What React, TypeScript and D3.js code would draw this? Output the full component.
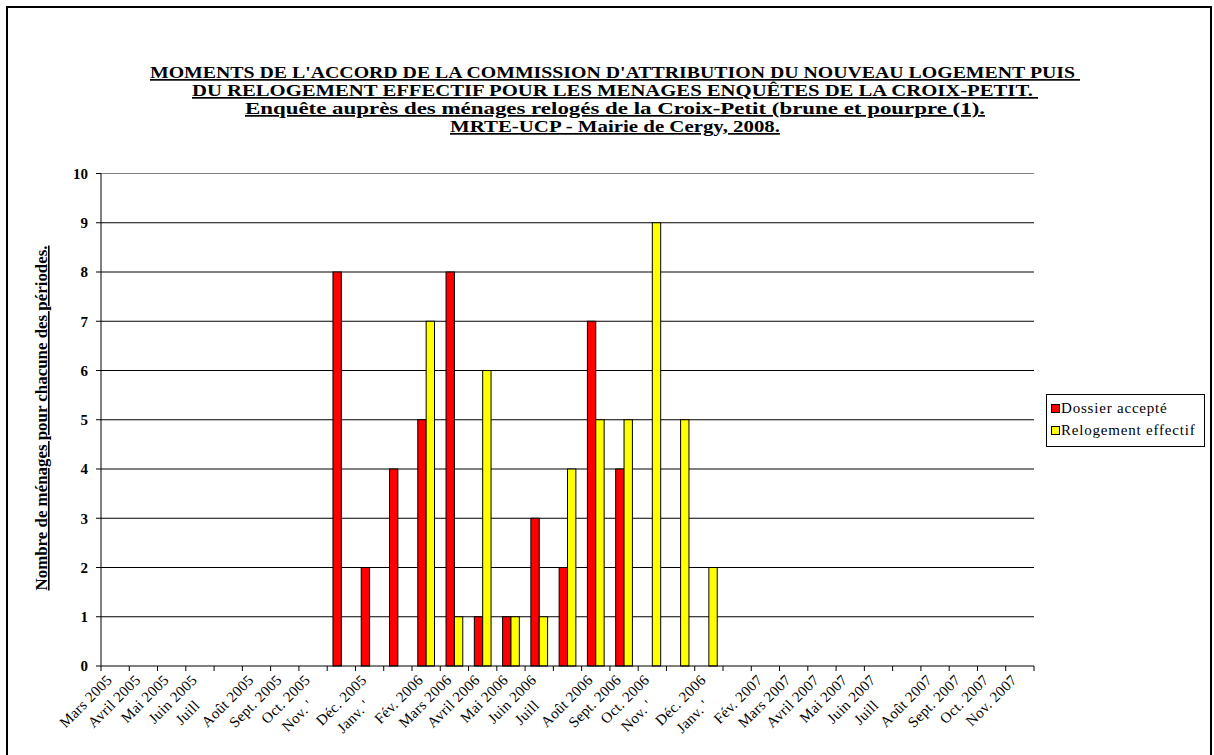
import React from "react";
import * as d3 from "d3";

const categories = ["Mars 2005","Avril 2005","Mai 2005","Juin 2005","Juill","Août 2005","Sept. 2005","Oct. 2005","Nov. '","Déc. 2005","Janv. '","Fév. 2006","Mars 2006","Avril 2006","Mai 2006","Juin 2006","Juill","Août 2006","Sept. 2006","Oct. 2006","Nov. '","Déc. 2006","Janv. '","Fév. 2007","Mars 2007","Avril 2007","Mai 2007","Juin 2007","Juill","Août 2007","Sept. 2007","Oct. 2007","Nov. 2007"];
const dossierAccepte = [0,0,0,0,0,0,0,0,8,2,4,5,8,1,1,3,2,7,4,0,0,0,0,0,0,0,0,0,0,0,0,0,0];
const relogementEffectif = [0,0,0,0,0,0,0,0,0,0,0,7,1,6,1,1,4,5,5,9,5,2,0,0,0,0,0,0,0,0,0,0,0];
const seriesNames = ["Dossier accepté","Relogement effectif"];
const seriesColors = ["#FF0000","#FFFF00"];
const yTicks = [0,1,2,3,4,5,6,7,8,9,10];
const titleLines = [
  "MOMENTS DE L'ACCORD DE LA COMMISSION D'ATTRIBUTION DU NOUVEAU LOGEMENT PUIS ",
  "DU RELOGEMENT EFFECTIF POUR LES MENAGES ENQUÊTES DE LA CROIX-PETIT. ",
  "Enquête auprès des ménages relogés de la Croix-Petit (brune et pourpre (1).",
  "MRTE-UCP - Mairie de Cergy, 2008.",
];
const titleWidths = [930, 846, 740, 330];
const yAxisTitle = "Nombre de ménages pour chacune des périodes.";

export default function App() {
  const W = 1214, H = 755;
  const left = 101, right = 1034, top = 173.5, bottom = 666;
  const font = "'Liberation Serif', 'Times New Roman', serif";

  const x = d3.scaleBand<number>().domain(d3.range(categories.length)).range([left, right]).padding(0);
  const inner = d3.scaleBand<number>().domain([0, 1]).range([0, x.step()]).paddingInner(0).paddingOuter(0.69);
  const y = d3.scaleLinear().domain([0, 10]).range([bottom, top]);
  const series = [dossierAccepte, relogementEffectif];

  return (
    <svg width={W} height={H} style={{ position: "fixed", left: 0, top: 0, background: "#fff" }} fontFamily={font}>
      <rect x={0} y={0} width={W} height={H} fill="#fff" />
      <rect x={7} y={7} width={1204} height={800} fill="none" stroke="#000" strokeWidth={2} />
      {titleLines.map((t, i) => (
        <text key={i} x={615} y={78 + i * 18} textAnchor="middle" fontSize={17} fontWeight="bold" textDecoration="underline" textLength={titleWidths[i]} lengthAdjust="spacingAndGlyphs" style={{ whiteSpace: "pre" }}>{t}</text>
      ))}
      {/* gridlines */}
      {yTicks.filter(v => v > 0).map(v => (
        <line key={v} x1={left} x2={right} y1={y(v)} y2={y(v)} stroke={v === 10 ? "#808080" : "#000"} strokeWidth={1} />
      ))}
      {/* bars */}
      {series.map((s, si) => s.map((v, i) => v > 0 ? (
        <rect key={si + "-" + i} x={(x(i) as number) + (inner(si) as number)} y={y(v)} width={inner.bandwidth()} height={y(0) - y(v)} fill={seriesColors[si]} stroke="#000" strokeWidth={1} />
      ) : null))}
      {/* y axis */}
      <line x1={left} x2={left} y1={top} y2={bottom} stroke="#000" strokeWidth={1} />
      {yTicks.map(v => (
        <g key={v}>
          <line x1={left - 5} x2={left} y1={y(v)} y2={y(v)} stroke="#000" />
          <text x={88} y={y(v)} dy="0.35em" textAnchor="end" fontSize={15} fontWeight="bold">{v}</text>
        </g>
      ))}
      {/* x axis */}
      <line x1={left} x2={right} y1={bottom} y2={bottom} stroke="#000" strokeWidth={1} />
      {d3.range(categories.length + 1).map(i => (
        <line key={i} x1={left + i * x.step()} x2={left + i * x.step()} y1={bottom} y2={bottom + 5} stroke="#000" />
      ))}
      {categories.map((c, i) => {
        const cx = (x(i) as number) + x.step() / 2;
        const short = !/\d/.test(c);
        return (
          <text key={i} transform={`translate(${cx - 2},${bottom + 15}) rotate(-45)`} dx={short ? -36 : 0} textAnchor="end" fontSize={15} letterSpacing={0.3}>{c}</text>
        );
      })}
      {/* y axis title */}
      <text transform={`translate(47,418) rotate(-90)`} textAnchor="middle" fontSize={16} fontWeight="bold" textDecoration="underline" textLength={345} lengthAdjust="spacingAndGlyphs">{yAxisTitle}</text>
      {/* legend */}
      <rect x={1046.5} y={394.5} width={158} height={52} fill="#fff" stroke="#000" strokeWidth={1} />
      {seriesNames.map((n, i) => (
        <g key={n}>
          <rect x={1051.5} y={404.5 + i * 22} width={8} height={8} fill={seriesColors[i]} stroke="#000" />
          <text x={1061} y={412.5 + i * 22} fontSize={15} letterSpacing={0.8}>{n}</text>
        </g>
      ))}
    </svg>
  );
}
